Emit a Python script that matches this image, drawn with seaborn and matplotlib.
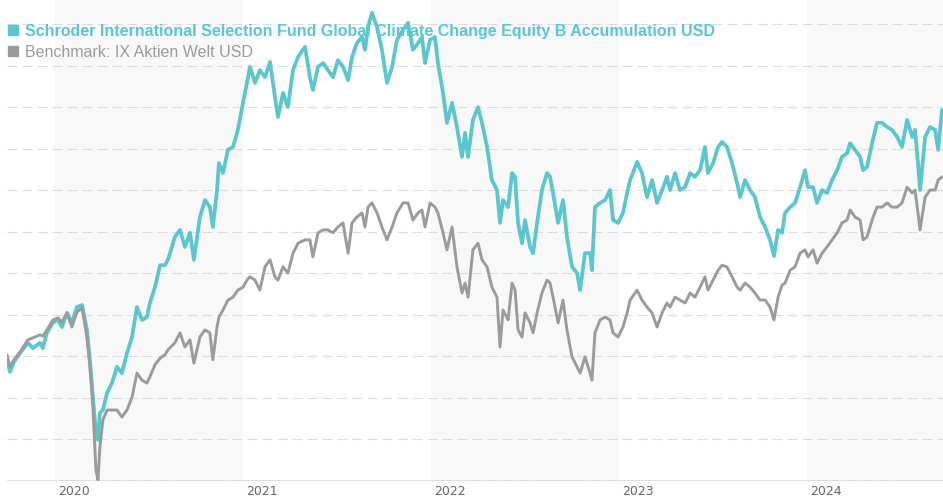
import matplotlib
matplotlib.use("Agg")
import matplotlib.pyplot as plt
import matplotlib.transforms as mtransforms
from matplotlib.lines import Line2D
import pandas as pd
import seaborn as sns

# decimal years and indexed values (start ~100)
years = [2019.745, 2019.761, 2019.782, 2019.814, 2019.856, 2019.883, 2019.920, 2019.936, 2019.957, 2019.989,
         2020.016, 2020.037, 2020.064, 2020.090, 2020.117, 2020.144, 2020.170, 2020.186, 2020.202, 2020.218,
         2020.229, 2020.239, 2020.255, 2020.277, 2020.303, 2020.330, 2020.356, 2020.383, 2020.410, 2020.436,
         2020.463, 2020.489, 2020.505, 2020.532, 2020.559, 2020.585, 2020.601, 2020.638, 2020.665, 2020.691,
         2020.718, 2020.739, 2020.771, 2020.798, 2020.824, 2020.840, 2020.862, 2020.872, 2020.894, 2020.920,
         2020.947, 2020.973, 2021.000, 2021.021, 2021.037, 2021.064, 2021.090, 2021.117, 2021.144, 2021.170,
         2021.186, 2021.213, 2021.239, 2021.266, 2021.293, 2021.330, 2021.356, 2021.372, 2021.399, 2021.426,
         2021.452, 2021.479, 2021.505, 2021.532, 2021.559, 2021.580, 2021.606, 2021.633, 2021.649, 2021.665,
         2021.686, 2021.713, 2021.739, 2021.766, 2021.793, 2021.819, 2021.851, 2021.878, 2021.904, 2021.931,
         2021.952, 2021.968, 2021.995, 2022.021, 2022.037, 2022.064, 2022.085, 2022.112, 2022.138, 2022.165,
         2022.181, 2022.197, 2022.223, 2022.250, 2022.271, 2022.298, 2022.324, 2022.351, 2022.367, 2022.383,
         2022.410, 2022.431, 2022.447, 2022.463, 2022.484, 2022.500, 2022.527, 2022.543, 2022.564, 2022.590,
         2022.617, 2022.633, 2022.649, 2022.676, 2022.702, 2022.723, 2022.750, 2022.777, 2022.793, 2022.819,
         2022.846, 2022.856, 2022.872, 2022.899, 2022.926, 2022.952, 2022.968, 2022.995, 2023.021, 2023.043,
         2023.059, 2023.096, 2023.122, 2023.149, 2023.176, 2023.202, 2023.229, 2023.255, 2023.271, 2023.298,
         2023.324, 2023.351, 2023.378, 2023.404, 2023.431, 2023.457, 2023.473, 2023.500, 2023.527, 2023.548,
         2023.574, 2023.601, 2023.628, 2023.644, 2023.670, 2023.697, 2023.723, 2023.750, 2023.777, 2023.803,
         2023.824, 2023.846, 2023.867, 2023.883, 2023.910, 2023.936, 2023.963, 2023.989, 2024.005, 2024.032,
         2024.053, 2024.080, 2024.106, 2024.133, 2024.160, 2024.186, 2024.213, 2024.229, 2024.255, 2024.282,
         2024.298, 2024.319, 2024.346, 2024.372, 2024.399, 2024.426, 2024.452, 2024.479, 2024.505, 2024.532,
         2024.559, 2024.574, 2024.590, 2024.601, 2024.628, 2024.654, 2024.681, 2024.697, 2024.718]

fund = [99.2, 96.3, 98.7, 100.8, 103.3, 102.0, 103.3, 102.0, 105.7, 108.1,
        108.8, 107.1, 110.5, 108.1, 111.9, 112.4, 106.4, 99.2, 90.2, 81.6,
        79.9, 86.4, 87.1, 91.2, 93.6, 97.5, 96.0, 100.8, 104.7, 111.9,
        108.8, 109.5, 112.9, 116.7, 122.0, 122.0, 123.3, 128.8, 130.5, 126.4,
        129.8, 123.3, 133.6, 137.7, 136.0, 131.2, 140.1, 146.6, 144.2, 149.8,
        150.5, 154.6, 161.1, 165.9, 169.8, 165.9, 169.0, 167.3, 171.0, 162.5,
        157.7, 163.5, 160.1, 169.0, 172.2, 174.6, 167.3, 164.2, 169.8, 170.7,
        169.0, 167.3, 171.4, 169.8, 166.6, 172.2, 175.5, 177.0, 173.9, 179.4,
        182.8, 179.4, 173.9, 165.9, 169.8, 176.3, 178.7, 180.4, 173.9, 175.5,
        177.0, 170.7, 176.3, 177.0, 170.7, 163.5, 156.3, 161.1, 155.3, 148.1,
        153.9, 148.1, 157.0, 160.1, 156.3, 150.5, 142.5, 140.1, 132.2, 137.7,
        136.0, 144.2, 143.3, 132.2, 127.3, 132.9, 126.4, 124.9, 132.2, 140.1,
        144.2, 143.3, 139.4, 132.2, 137.7, 128.8, 121.6, 120.1, 116.0, 124.9,
        124.9, 120.8, 136.0, 137.0, 137.7, 140.1, 132.9, 132.2, 134.6, 139.4,
        142.5, 146.9, 144.2, 138.4, 142.5, 137.0, 140.1, 143.3, 140.1, 144.2,
        140.1, 140.8, 144.2, 143.3, 144.9, 150.5, 144.2, 146.6, 150.5, 151.7,
        150.5, 146.6, 141.8, 138.4, 142.5, 140.1, 138.4, 133.6, 131.2, 128.1,
        124.2, 130.5, 129.8, 134.6, 136.0, 137.0, 140.8, 144.9, 140.8, 140.8,
        137.0, 140.1, 139.4, 142.5, 144.9, 148.1, 149.0, 151.4, 149.8, 148.1,
        144.9, 145.7, 151.4, 156.3, 156.3, 155.3, 154.6, 152.9, 150.5, 157.0,
        152.9, 154.6, 146.6, 140.1, 152.9, 155.3, 154.6, 149.8, 159.4]

bench = [100.4, 97.5, 99.2, 101.1, 104.0, 104.5, 105.2, 104.9, 106.4, 108.8,
         109.3, 108.3, 110.5, 107.1, 110.7, 111.7, 104.7, 97.5, 87.8, 72.6,
         70.2, 78.2, 84.7, 87.1, 87.1, 87.1, 85.4, 87.1, 90.2, 96.0,
         94.3, 93.6, 95.1, 98.0, 99.6, 100.4, 101.6, 103.3, 105.7, 102.3,
         104.0, 98.4, 104.7, 106.4, 105.7, 99.2, 107.1, 109.5, 111.2, 113.6,
         114.3, 116.0, 116.7, 118.4, 119.2, 118.4, 116.0, 121.6, 123.3, 119.2,
         118.4, 121.6, 120.1, 124.9, 127.3, 128.1, 128.1, 124.0, 129.8, 130.5,
         130.5, 129.8, 131.2, 132.2, 124.9, 132.2, 133.6, 134.6, 131.2, 136.0,
         137.0, 134.6, 131.2, 128.1, 131.2, 134.6, 137.0, 137.0, 132.9, 134.6,
         135.3, 131.2, 137.0, 136.0, 134.6, 129.8, 125.7, 131.2, 121.6, 115.3,
         117.7, 114.3, 125.7, 127.3, 123.3, 121.6, 116.7, 114.3, 102.3, 111.2,
         108.8, 117.7, 116.0, 106.4, 104.7, 110.5, 108.1, 105.7, 110.5, 115.3,
         118.4, 117.7, 114.3, 108.1, 113.6, 106.4, 99.9, 97.5, 96.0, 99.9,
         96.0, 94.3, 105.7, 108.8, 109.5, 108.8, 105.7, 104.7, 107.1, 110.5,
         113.6, 116.0, 113.6, 111.9, 110.5, 107.1, 110.5, 112.9, 111.9, 114.3,
         113.6, 112.9, 115.3, 114.3, 116.7, 119.2, 116.0, 118.4, 120.8, 122.0,
         121.6, 119.2, 116.7, 116.0, 117.7, 116.7, 115.3, 113.6, 113.6, 111.9,
         108.8, 114.3, 117.2, 117.7, 120.8, 121.6, 124.9, 125.7, 124.0, 125.7,
         122.5, 124.9, 126.4, 128.1, 129.8, 132.2, 132.9, 135.3, 133.6, 132.9,
         128.1, 128.8, 132.9, 136.0, 136.0, 137.0, 136.0, 136.0, 137.0, 140.8,
         139.4, 140.1, 134.6, 130.5, 138.4, 140.1, 140.1, 142.5, 143.3]

fund_label = "Schroder International Selection Fund Global Climate Change Equity B Accumulation USD"
bench_label = "Benchmark: IX Aktien Welt USD"
year_ticks = [2020, 2021, 2022, 2023, 2024]
shaded_years = [2020, 2022, 2024]

teal = "#5cc6ce"
grey = "#9b9b9b"

df = pd.DataFrame({"year": years, "fund": fund, "bench": bench})

sns.set_style("white")
plt.rcParams["font.family"] = ["DejaVu Sans"]

fig = plt.figure(figsize=(9.43, 5.0), dpi=100)
ax = fig.add_axes([7 / 943, 19 / 500, 936 / 943, 481 / 500])

x_min, x_max = 2019.745, 2024.723
y_min, y_max = 70, 185.9

# alternating year bands
for yr in shaded_years:
    ax.axvspan(yr, yr + 1, color="#f8f8f8", zorder=0, lw=0)

# dashed horizontal grid
for g in range(70, 190, 10):
    ax.axhline(g, color="#dcdcdc", lw=0.8, ls=(0, (9, 4.5)), zorder=1)
ax.axhline(y_min, color="#d9d9d9", lw=1.2, zorder=1)

sns.lineplot(data=df, x="year", y="fund", color=teal, lw=2.7, estimator=None, ax=ax, zorder=3)
sns.lineplot(data=df, x="year", y="bench", color=grey, lw=2.1, estimator=None, ax=ax, zorder=4)

ax.set_xlim(x_min, x_max)
ax.set_ylim(y_min, y_max)
ax.set_xlabel("")
ax.set_ylabel("")
ax.set_yticks([])
ax.set_xticks(year_ticks)
ax.set_xticklabels([str(y) for y in year_ticks], fontsize=9, color="#666666")
ax.tick_params(axis="x", length=0, pad=3)
offset = mtransforms.ScaledTranslation(3 / 100, 0, fig.dpi_scale_trans)
for lbl in ax.get_xticklabels():
    lbl.set_horizontalalignment("left")
    lbl.set_transform(lbl.get_transform() + offset)
for side in ["top", "right", "left", "bottom"]:
    ax.spines[side].set_visible(False)

handles = [Line2D([], [], marker="s", ls="none", color=teal, markersize=6.5),
           Line2D([], [], marker="s", ls="none", color=grey, markersize=6.5)]
leg = fig.legend(handles, [fund_label, bench_label], loc="upper left",
                 bbox_to_anchor=(7 / 943, 1 - 24 / 500), frameon=False,
                 prop={"family": "Liberation Sans", "size": 11.5},
                 handlelength=0.7, handletextpad=0.45, labelspacing=0.38,
                 borderpad=0, borderaxespad=0)
leg.get_texts()[0].set_color(teal)
leg.get_texts()[0].set_fontweight("bold")
leg.get_texts()[1].set_color(grey)

fig.savefig("out.png", dpi=100)
